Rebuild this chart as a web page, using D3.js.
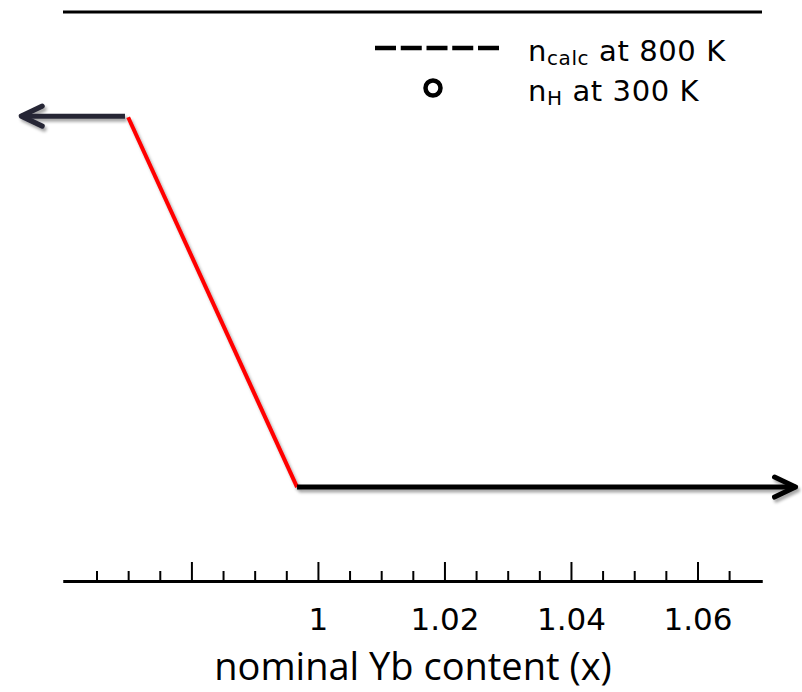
<!DOCTYPE html>
<html><head><meta charset="utf-8">
<script src="https://cdn.jsdelivr.net/npm/d3@7"></script>
<style>body{margin:0;background:#fff} svg{display:block}</style>
</head><body><svg id="chart" width="802" height="692"></svg>
<script>
// Axis ticks along nominal Yb content
const majorTicks = [0.98, 1, 1.02, 1.04, 1.06];
const majorLabels = ["", "1", "1.02", "1.04", "1.06"];
const minorTicks = [0.965, 0.97, 0.975, 0.985, 0.99, 0.995, 1.005, 1.01, 1.015,
                    1.025, 1.03, 1.035, 1.045, 1.05, 1.055, 1.065];

// Carrier concentration trend (arbitrary units): plateau, drop, plateau
const highPlateau = [{x: 0.9531, n: 0.817}, {x: 0.9695, n: 0.817}];
const dropSegment = [{x: 0.9700, n: 0.815}, {x: 0.9967, n: 0.165}];
const lowPlateau  = [{x: 0.9967, n: 0.165}, {x: 1.0755, n: 0.165}];

const legendLabels = [["n", "calc", " at 800 K"], ["n", "H", " at 300 K"]];

const svg = d3.select("#chart");
const x = d3.scaleLinear().domain([0.9597, 1.0702]).range([63, 762]);
const y = d3.scaleLinear().domain([0, 1]).range([581, 12]);

const defs = svg.append("defs");
const f = defs.append("filter").attr("id", "shadow")
  .attr("x", "-10%").attr("y", "-50%").attr("width", "130%").attr("height", "250%");
f.append("feDropShadow").attr("dx", 2).attr("dy", 3).attr("stdDeviation", 1.8)
  .attr("flood-color", "#000").attr("flood-opacity", 0.35);

// top frame line
svg.append("line")
  .attr("x1", x.range()[0]).attr("x2", x.range()[1])
  .attr("y1", y(1)).attr("y2", y(1))
  .attr("stroke", "#000").attr("stroke-width", 3);

// bottom axis: major ticks with labels, minor ticks without
const axisG = svg.append("g").attr("transform", `translate(0,${y(0)})`);
const major = d3.axisTop(x).tickValues(majorTicks)
  .tickFormat((d, i) => majorLabels[i]).tickSize(19).tickSizeOuter(0);
const minor = d3.axisTop(x).tickValues(minorTicks).tickFormat("").tickSize(10).tickSizeOuter(0);
axisG.append("g").call(minor);
const mg = axisG.append("g").call(major);
axisG.selectAll("path.domain").attr("stroke", "#000").attr("stroke-width", 3);
axisG.selectAll(".tick line").attr("stroke", "#000").attr("stroke-width", 2);
mg.selectAll(".tick text")
  .attr("y", 49).attr("dy", 0)
  .attr("font-family", "DejaVu Sans").attr("font-size", 31).attr("fill", "#000");

// axis title
svg.append("text")
  .attr("x", 413).attr("y", 680)
  .attr("text-anchor", "middle")
  .attr("font-family", "Open Sans").attr("font-size", 38).attr("fill", "#000")
  .text("nominal Yb content (x)");

const line = d3.line().x(d => x(d.x)).y(d => y(d.n));

// chevron arrowhead at the end of a horizontal segment
function arrowHead(g, p, dir, color, w) {
  const tx = x(p.x), ty = y(p.n);
  g.append("path")
    .attr("d", `M${tx - dir * 21},${ty - 10}L${tx},${ty}L${tx - dir * 21},${ty + 10}`)
    .attr("fill", "none").attr("stroke", color).attr("stroke-width", w)
    .attr("stroke-linecap", "round").attr("stroke-linejoin", "round");
}

const gHigh = svg.append("g").attr("filter", "url(#shadow)");
gHigh.append("path").datum(highPlateau).attr("d", line)
  .attr("fill", "none").attr("stroke", "#262636").attr("stroke-width", 5);
arrowHead(gHigh, highPlateau[0], -1, "#262636", 5);

const gDrop = svg.append("g").attr("filter", "url(#shadow)");
gDrop.append("path").datum(dropSegment).attr("d", line)
  .attr("fill", "none").attr("stroke", "#ff0000").attr("stroke-width", 4);

const gLow = svg.append("g").attr("filter", "url(#shadow)");
gLow.append("path").datum(lowPlateau).attr("d", line)
  .attr("fill", "none").attr("stroke", "#000").attr("stroke-width", 5);
arrowHead(gLow, lowPlateau[1], 1, "#000", 5);

// legend
const lg = svg.append("g");
lg.append("line").attr("x1", 375).attr("x2", 499).attr("y1", 48).attr("y2", 48)
  .attr("stroke", "#000").attr("stroke-width", 4.5).attr("stroke-dasharray", "21,4.75");
lg.append("circle").attr("cx", 433).attr("cy", 88).attr("r", 7.5)
  .attr("fill", "none").attr("stroke", "#000").attr("stroke-width", 4.5);
legendLabels.forEach((parts, i) => {
  const t = lg.append("text").attr("x", 528).attr("y", 61 + i * 40)
    .attr("font-family", "DejaVu Sans").attr("font-size", 29)
    .attr("letter-spacing", 0.6).attr("fill", "#000");
  t.append("tspan").text(parts[0]);
  t.append("tspan").attr("font-size", 20).attr("dy", 4).text(parts[1]);
  t.append("tspan").attr("dy", -4).text(parts[2]);
});
</script></body></html>
